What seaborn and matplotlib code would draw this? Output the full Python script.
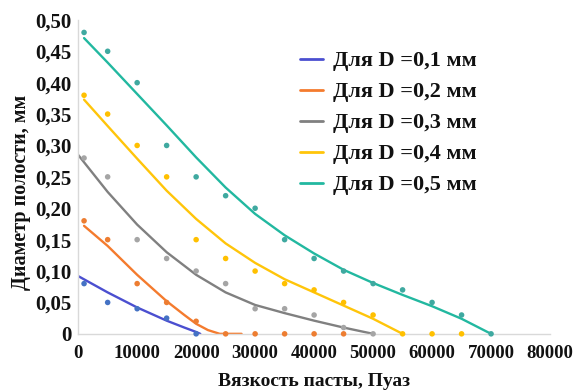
import numpy as np
import pandas as pd
import matplotlib
matplotlib.use("Agg")
import matplotlib.pyplot as plt
import seaborn as sns

labels = ["Для D =0,1 мм", "Для D =0,2 мм", "Для D =0,3 мм", "Для D =0,4 мм", "Для D =0,5 мм"]

x_01 = [1000, 5000, 10000, 15000, 20000]
y_01 = [0.08, 0.05, 0.04, 0.025, 0.0]

x_02 = [1000, 5000, 10000, 15000, 20000, 25000, 30000, 35000, 40000, 45000]
y_02 = [0.18, 0.15, 0.08, 0.05, 0.02, 0.0, 0.0, 0.0, 0.0, 0.0]

x_03 = [1000, 5000, 10000, 15000, 20000, 25000, 30000, 35000, 40000, 45000, 50000]
y_03 = [0.28, 0.25, 0.15, 0.12, 0.10, 0.08, 0.04, 0.04, 0.03, 0.01, 0.0]

x_04 = [1000, 5000, 10000, 15000, 20000, 25000, 30000, 35000, 40000, 45000, 50000, 55000, 60000, 65000]
y_04 = [0.38, 0.35, 0.30, 0.25, 0.15, 0.12, 0.10, 0.08, 0.07, 0.05, 0.03, 0.0, 0.0, 0.0]

x_05 = [1000, 5000, 10000, 15000, 20000, 25000, 30000, 35000, 40000, 45000, 50000, 55000, 60000, 65000, 70000]
y_05 = [0.48, 0.45, 0.40, 0.30, 0.25, 0.22, 0.20, 0.15, 0.12, 0.10, 0.08, 0.07, 0.05, 0.03, 0.0]

# ---- trend lines ----
tx_01 = [0, 5000, 10000, 15000, 18000, 20000, 20700]
ty_01 = [0.092, 0.066, 0.042, 0.021, 0.010, 0.003, 0.0]

tx_02 = [1000, 5000, 10000, 15000, 18000, 20000, 22000, 24000, 27700]
ty_02 = [0.172, 0.140, 0.094, 0.052, 0.030, 0.016, 0.006, 0.0, 0.0]

tx_03 = [0, 5000, 10000, 15000, 20000, 25000, 30000, 35000, 40000, 45000, 50000]
ty_03 = [0.285, 0.226, 0.174, 0.130, 0.094, 0.066, 0.046, 0.033, 0.021, 0.010, 0.0]

tx_04 = [1000, 5000, 10000, 15000, 20000, 25000, 30000, 35000, 40000, 45000, 50000, 55000]
ty_04 = [0.373, 0.331, 0.279, 0.228, 0.183, 0.144, 0.113, 0.087, 0.066, 0.045, 0.024, 0.0]

tx_05 = [1000, 5000, 10000, 15000, 20000, 25000, 30000, 35000, 40000, 45000, 50000, 55000, 60000, 65000, 70000]
ty_05 = [0.471, 0.432, 0.382, 0.332, 0.281, 0.233, 0.191, 0.157, 0.128, 0.102, 0.081, 0.062, 0.044, 0.024, 0.0]

point_colors = ["#4472C4", "#ED7D31", "#A5A5A5", "#FFC000", "#3FA9A0"]
line_colors = ["#4B4FD0", "#F47B2E", "#808080", "#FFC50A", "#22B8A0"]

xs = [x_01, x_02, x_03, x_04, x_05]
ys = [y_01, y_02, y_03, y_04, y_05]
txs = [tx_01, tx_02, tx_03, tx_04, tx_05]
tys = [ty_01, ty_02, ty_03, ty_04, ty_05]

pts = pd.concat([pd.DataFrame({"x": x, "y": y, "s": lab}) for x, y, lab in zip(xs, ys, labels)])
trend = pd.concat([pd.DataFrame({"x": x, "y": y, "s": lab}) for x, y, lab in zip(txs, tys, labels)])

sns.set_theme(style="white")
plt.rcParams["font.family"] = ["Liberation Serif", "DejaVu Serif"]

fig = plt.figure(figsize=(5.79, 3.90), dpi=100)
ax = fig.add_axes([0.135, 0.144, 0.815, 0.805])

sns.scatterplot(data=pts, x="x", y="y", hue="s", palette=point_colors, s=16,
                edgecolor="none", legend=False, ax=ax, zorder=3, clip_on=False)
sns.lineplot(data=trend, x="x", y="y", hue="s", palette=line_colors, linewidth=1.7,
             ax=ax, zorder=2, sort=False, estimator=None)

ax.set_xlim(0, 80000)
ax.set_ylim(0, 0.5)
ax.set_xticks(np.arange(0, 80001, 10000))
ax.set_xticklabels([str(v) for v in range(0, 80001, 10000)])
yt = np.round(np.arange(0, 0.501, 0.05), 2)
ax.set_yticks(yt)
ax.set_yticklabels(["0" if v == 0 else f"{v:.2f}".replace(".", ",") for v in yt])
for lbl in ax.get_xticklabels():
    lbl.set_fontweight("bold"); lbl.set_fontsize(13.5); lbl.set_color("#111111")
for lbl in ax.get_yticklabels():
    lbl.set_fontweight("bold"); lbl.set_fontsize(15); lbl.set_color("#111111")
ax.tick_params(axis="both", direction="out", length=3, width=0.8, color="#D9D9D9")
ax.tick_params(axis="y", pad=2)
ax.tick_params(axis="x", pad=5)

ax.set_xlabel("Вязкость пасты, Пуаз", fontsize=14, fontweight="bold", labelpad=8, color="#111111")
ax.set_ylabel("Диаметр полости, мм", fontsize=14.5, fontweight="bold", color="#111111")
ax.yaxis.set_label_coords(-0.1, 0.45)

for sp in ["top", "right"]:
    ax.spines[sp].set_visible(False)
for sp in ["left", "bottom"]:
    ax.spines[sp].set_color("#D9D9D9")
    ax.spines[sp].set_linewidth(1.0)

leg = ax.legend(loc="upper left", bbox_to_anchor=(0.428, 0.965), frameon=False,
                prop={"weight": "bold", "size": 16}, handlelength=1.05,
                labelspacing=0.47, handletextpad=0.45)
for t in leg.get_texts():
    t.set_color("#111111")
for h in leg.get_lines():
    h.set_linewidth(2.0)

fig.savefig("out.png", dpi=100)
